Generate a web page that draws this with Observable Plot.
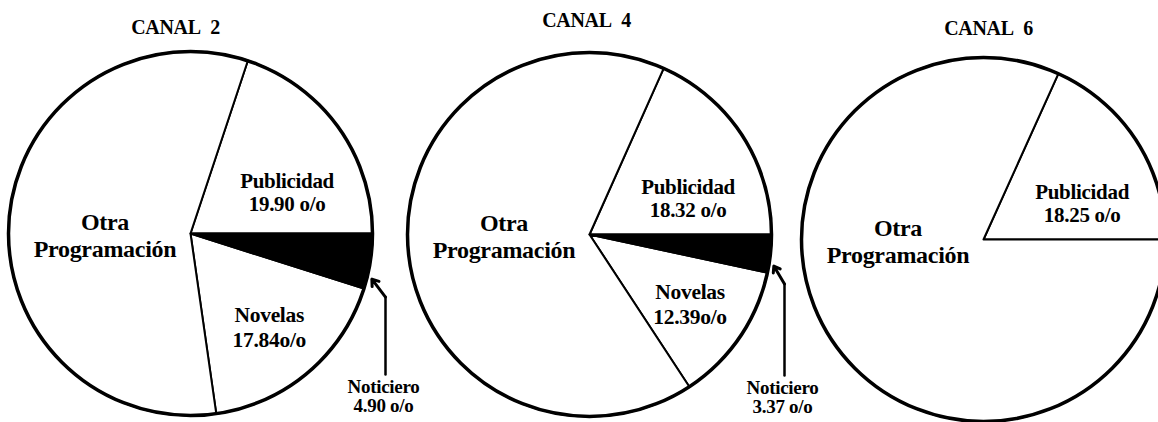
<!DOCTYPE html>
<html><head><meta charset="utf-8">
<script src="https://cdn.jsdelivr.net/npm/d3@7"></script>
<script src="https://cdn.jsdelivr.net/npm/@observablehq/plot@0.6"></script>
<style>html,body{margin:0;padding:0;background:#fff} #chart svg{display:block} #chart text{letter-spacing:-0.3px}</style>
</head><body><div id="chart"></div>
<script>
// ---- data ----
const canales = ["CANAL\u00a0\u00a02", "CANAL\u00a0\u00a04", "CANAL\u00a0\u00a06"];
const categorias = ["Publicidad", "Noticiero", "Novelas", "Otra Programación"];
const publicidad = [19.90, 18.32, 18.25];
const noticiero = [4.90, 3.37, 0];
const novelas = [17.84, 12.39, 0];
const otra = [57.36, 65.92, 81.75];
const pubText = ["19.90 o/o", "18.32 o/o", "18.25 o/o"];
const notText = ["4.90 o/o", "3.37 o/o", ""];
const novText = ["17.84o/o", "12.39o/o", ""];

// ---- layout ----
const W = 1158, H = 422;
const layout = [
  {cx: 190, cy: 233, r: 182, tx: 175, ty: 27},
  {cx: 589, cy: 234, r: 182, tx: 586, ty: 20},
  {cx: 983, cy: 239, r: 182, tx: 988, ty: 28}
];
const pt = (c, ang, rr) => { const a = ang * Math.PI / 180; return [c.cx + rr * Math.sin(a), c.cy - rr * Math.cos(a)]; };

const slicePts = [];
const labels = [];
const arrowLines = [];
const arrows = [];
canales.forEach((name, i) => {
  const c = layout[i];
  const vals = [publicidad[i], noticiero[i], novelas[i], otra[i]];
  let a0 = 90 - publicidad[i] * 3.6;      // Publicidad ends at 3 o'clock
  const spans = {};
  vals.forEach((v, k) => {
    if (!v) return;
    const a1 = a0 + v * 3.6;
    spans[categorias[k]] = [a0, a1];
    const id = i + "-" + k;
    const dark = categorias[k] === "Noticiero";
    slicePts.push({id, dark, x: c.cx, y: c.cy});
    const n = Math.max(2, Math.ceil(a1 - a0));
    for (let s = 0; s <= n; s++) {
      const [x, y] = pt(c, a0 + (a1 - a0) * s / n, c.r);
      slicePts.push({id, dark, x, y});
    }
    slicePts.push({id, dark, x: c.cx, y: c.cy});
    a0 = a1;
  });
  labels.push({x: c.tx, y: c.ty, t: name, size: 20, lh: 1});
  {
    const [s0, s1] = spans["Publicidad"];
    const [x, y] = pt(c, (s0 + s1) / 2 + 12, c.r * 0.58);
    labels.push({x, y: y + 1, t: "Publicidad\n" + pubText[i], size: 21, lh: 1.1});
  }
  {
    const [x, y] = pt(c, 270, c.r * 0.47);
    labels.push({x, y: y + 1, t: "Otra\nProgramación", size: 24, lh: 1.15});
  }
  if (spans["Novelas"]) {
    const [s0, s1] = spans["Novelas"];
    const [x, y] = pt(c, (s0 + s1) / 2, c.r * 0.67);
    labels.push({x, y, t: "Novelas\n" + novText[i], size: 21.5, lh: 1.15});
  }
  if (spans["Noticiero"]) {
    const [s0, s1] = spans["Noticiero"];
    const lx = c.cx + 193, ly = c.cy + 163;
    labels.push({x: lx, y: ly, t: "Noticiero\n" + notText[i], size: 19, lh: 0.98});
    const [tx, ty] = pt(c, s0 + 0.8 * (s1 - s0), c.r + 5);
    const bx = lx + 2, by = ty + 18;
    arrowLines.push({id: i, x: bx, y: c.cy + 141}, {id: i, x: bx, y: by});
    arrows.push({x1: bx, y1: by, x2: tx, y2: ty});
  }
});

const groups = d3.groups(labels, d => d.size + "|" + d.lh);
const chart = Plot.plot({
  width: W, height: H, margin: 0,
  x: {domain: [0, W], range: [0, W], axis: null},
  y: {domain: [0, H], range: [0, H], axis: null},
  style: {background: "white", fontFamily: "'Liberation Serif', 'DejaVu Serif', serif", color: "black"},
  marks: [
    Plot.line(slicePts.filter(d => !d.dark), {x: "x", y: "y", z: "id", fill: "white", stroke: "black", strokeWidth: 2, strokeLinejoin: "round"}),
    Plot.line(slicePts.filter(d => d.dark), {x: "x", y: "y", z: "id", fill: "black", stroke: "black", strokeWidth: 2, strokeLinejoin: "round"}),
    Plot.dot(layout, {x: "cx", y: "cy", r: 182, fill: "none", stroke: "black", strokeWidth: 3.5}),
    Plot.line(arrowLines, {x: "x", y: "y", z: "id", stroke: "black", strokeWidth: 2.5}),
    Plot.arrow(arrows, {x1: "x1", y1: "y1", x2: "x2", y2: "y2", stroke: "black", strokeWidth: 3, headLength: 7, headAngle: 70}),
    ...groups.map(([key, rows]) => Plot.text(rows, {x: "x", y: "y", text: "t", fontSize: rows[0].size, fontWeight: "bold", fill: "black", lineHeight: rows[0].lh, lineAnchor: "middle"}))
  ]
});
document.getElementById("chart").appendChild(chart);
</script>
</body></html>
